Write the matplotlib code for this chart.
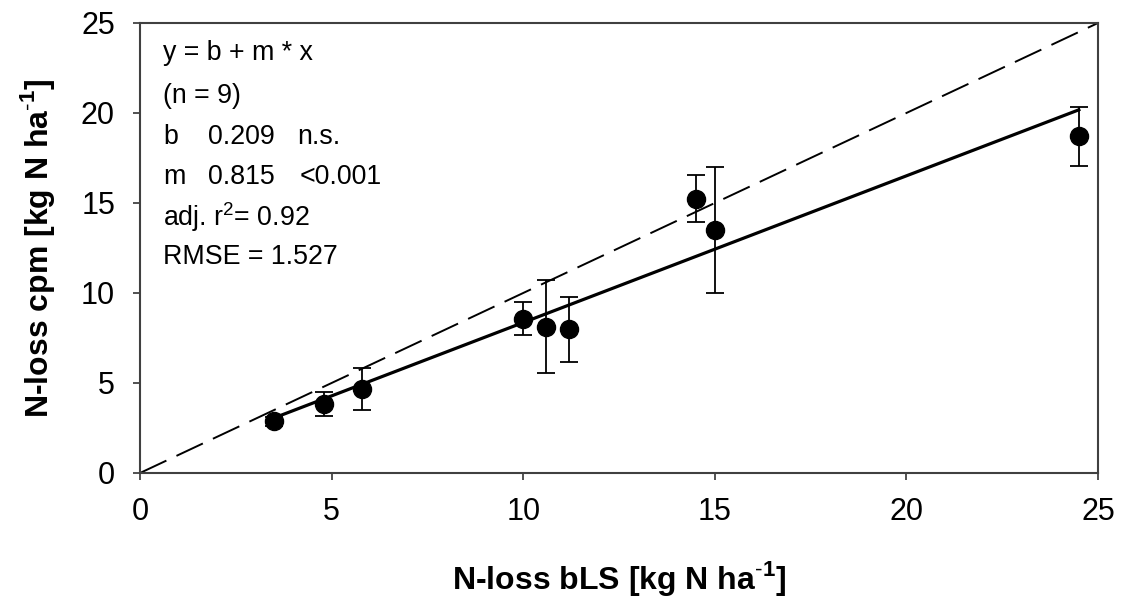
import matplotlib
matplotlib.use("Agg")
import matplotlib.pyplot as plt
import numpy as np

plt.rcParams['font.family'] = ['Liberation Sans', 'DejaVu Sans']
plt.rcParams['lines.scale_dashes'] = False
plt.rcParams['mathtext.fontset'] = 'custom'
plt.rcParams['mathtext.rm'] = 'Liberation Sans'
plt.rcParams['mathtext.bf'] = 'Liberation Sans:bold'

# Data
x_bls = [3.5, 4.8, 5.8, 10.0, 10.6, 11.2, 14.5, 15.0, 24.5]
y_cpm = [2.88, 3.83, 4.65, 8.57, 8.12, 7.98, 15.25, 13.5, 18.7]
y_err = [0.25, 0.65, 1.17, 0.93, 2.58, 1.80, 1.28, 3.5, 1.62]
b_coef = 0.209
m_coef = 0.815
stats_lines = ["y = b + m * x", "(n = 9)"]
ticks = [0, 5, 10, 15, 20, 25]

fig = plt.figure(figsize=(11.37, 6.0), dpi=100)
ax = fig.add_axes([140/1137, 1-473/600, (1098-140)/1137, (473-23)/600])

# 1:1 line
ax.plot([0, 25], [0, 25], color='black', lw=1.4, dashes=(21, 8), zorder=2)

# regression line
xr = np.array([min(x_bls), max(x_bls)])
ax.plot(xr, b_coef + m_coef * xr, color='black', lw=2.3, zorder=3)

ax.errorbar(x_bls, y_cpm, yerr=y_err, fmt='o', color='black', ms=13,
            elinewidth=1.3, capsize=6.5, capthick=1.3, zorder=4)

ax.set_xlim(0, 25)
ax.set_ylim(0, 25)
ax.set_xticks(ticks)
ax.set_yticks(ticks)
ax.tick_params(direction='out', length=5, width=1.2, labelsize=22,
               color='#333333')
ax.tick_params(axis='x', pad=12)
ax.tick_params(axis='y', pad=13)
for s in ax.spines.values():
    s.set_linewidth(1.5)
    s.set_color('#404040')

ax.set_xlabel(r"N-loss bLS [kg N ha$^{\mathbf{\text{-}1}}$]", fontsize=23,
              fontweight='bold', labelpad=23)
ax.set_ylabel(r"N-loss cpm [kg N ha$^{\mathbf{\text{-}1}}$]", fontsize=23,
              fontweight='bold', labelpad=17)

fs = 19.3
X0 = (163 - 140) / 38.32
def ypix(p):
    return (473 - p) / 18.0

ax.text(X0, ypix(53), stats_lines[0], fontsize=fs, va='center', ha='left')
ax.text(X0, ypix(96), stats_lines[1], fontsize=fs, va='center', ha='left')
ax.text(X0, ypix(137), "b", fontsize=fs, va='center', ha='left')
ax.text((208-140)/38.32, ypix(137), f"{b_coef:.3f}", fontsize=fs, va='center', ha='left')
ax.text((297-140)/38.32, ypix(137), "n.s.", fontsize=fs, va='center', ha='left')
ax.text(X0, ypix(177), "m", fontsize=fs, va='center', ha='left')
ax.text((208-140)/38.32, ypix(177), f"{m_coef:.3f}", fontsize=fs, va='center', ha='left')
ax.text((300-140)/38.32, ypix(177), "<0.001", fontsize=fs, va='center', ha='left')
ax.text(X0, ypix(217), r"adj. r$^{\mathregular{2}}$= 0.92", fontsize=fs, va='center', ha='left')
ax.text(X0, ypix(257), "RMSE = 1.527", fontsize=fs, va='center', ha='left')

fig.savefig("out.png", dpi=100)
